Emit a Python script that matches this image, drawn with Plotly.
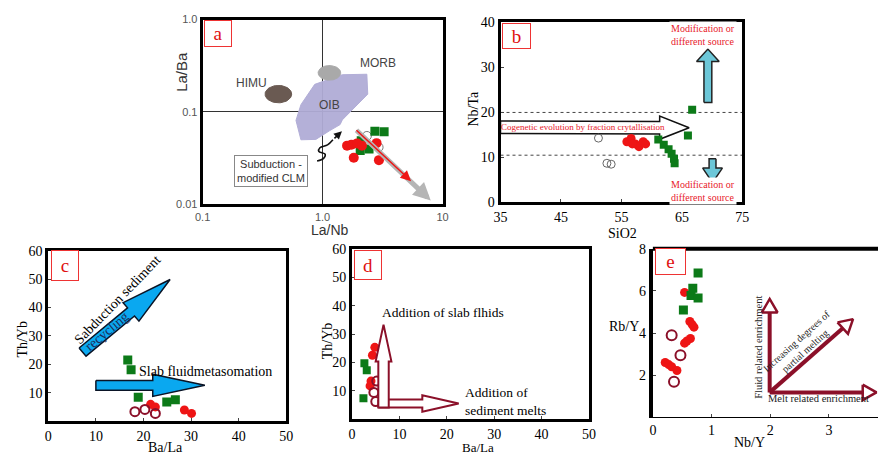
import numpy as np
import plotly.graph_objects as go

W, H = 885, 461
SERIF = "Liberation Serif"
SANS = "Liberation Sans"
RED = "#ee1515"
GREEN = "#0c7a18"
DRED = "#8b1029"

# ---------------- data ----------------
# panel a : La/Nb (x) vs La/Ba (y), log-log
a_red_x = [1.60, 1.74, 1.94, 2.13, 1.82, 2.82, 2.95]
a_red_y = [0.0432, 0.0443, 0.0457, 0.0432, 0.0320, 0.0460, 0.0301]
a_green_x = [2.73, 3.26, 2.10, 2.06, 2.44]
a_green_y = [0.0620, 0.0610, 0.0488, 0.0383, 0.0398]
a_open_x = [2.34, 2.93]
a_open_y = [0.0550, 0.0415]
oib_x = [0.86, 1.46, 2.34, 2.38, 1.46, 1.40, 1.14, 0.88, 0.66, 0.60, 0.66, 0.86]
oib_y = [0.199, 0.253, 0.256, 0.156, 0.082, 0.073, 0.0625, 0.0505, 0.050, 0.081, 0.120, 0.199]
himu_c, himu_r = (0.428, 0.156), (0.111, 0.094)      # centre (data), radii (decades)
morb_c, morb_r = (1.14, 0.265), (0.094, 0.079)

# panel b : SiO2 vs Nb/Ta
b_open_x = [51.2, 52.6, 53.3]
b_open_y = [14.3, 8.7, 8.5]
b_red_x = [55.9, 56.6, 57.3, 57.9, 58.6, 59.0, 56.8]
b_red_y = [13.5, 14.2, 13.0, 12.4, 13.5, 13.0, 13.0]
b_green_x = [61.1, 62.0, 62.8, 63.3, 63.7, 63.8, 66.0, 66.7]
b_green_y = [14.0, 12.8, 11.8, 10.8, 9.7, 8.7, 14.9, 20.6]
b_lines = [20.0, 10.5]

# panel c : Ba/La vs Th/Yb
c_green_x = [16.7, 17.4, 18.9, 24.9, 26.7]
c_green_y = [21.5, 18.1, 8.4, 6.7, 7.5]
c_red_x = [21.5, 22.5, 28.6, 30.1]
c_red_y = [5.9, 5.0, 3.9, 2.7]
c_open_x = [18.2, 20.3, 22.5]
c_open_y = [3.3, 4.1, 2.7]

# panel d : Ba/La vs Th/Yb
d_red_x = [4.8, 4.3, 4.0, 3.8]
d_red_y = [25.3, 22.5, 13.4, 11.7]
d_open_x = [5.2, 4.6, 5.0]
d_open_y = [13.4, 9.4, 6.2]
d_green_x = [2.6, 3.1, 2.4]
d_green_y = [19.7, 17.2, 7.4]

# panel e : Nb/Y vs Rb/Y
e_green_x = [0.77, 0.68, 0.65, 0.77, 0.52]
e_green_y = [6.85, 6.13, 5.78, 5.67, 5.09]
e_red_x = [0.54, 0.63, 0.70, 0.67, 0.64, 0.54, 0.58, 0.21, 0.27, 0.32, 0.41]
e_red_y = [5.93, 4.55, 4.28, 4.40, 3.74, 3.52, 3.62, 2.60, 2.50, 2.40, 2.22]
e_open_x = [0.32, 0.47, 0.36]
e_open_y = [3.90, 2.94, 1.69]

# ---------------- layout geometry (pixel boxes) ----------------
panels = {
    "a": dict(box=(198, 13, 442, 204), xr=(-1, 1), yr=(-2, 0), ax="", log=True),
    "b": dict(box=(501, 16, 747, 202), xr=(35, 75), yr=(0, 40), ax="2", log=False),
    "c": dict(box=(41, 252, 283, 428), xr=(0, 50), yr=(0, 60), ax="3", log=False),
    "d": dict(box=(350, 250, 591, 426), xr=(0, 50), yr=(0, 60), ax="4", log=False),
    "e": dict(box=(656, 250, 885, 424), xr=(0, 229 / 59.7), yr=(0, 8), ax="5", log=False),
}


def scale(p):
    x0, y0, x1, y1 = p["box"]
    return (x1 - x0) / (p["xr"][1] - p["xr"][0]), (y1 - y0) / (p["yr"][1] - p["yr"][0])


def P(px, py):
    return px / W, 1 - py / H


fig = go.Figure()


def add(p, x, y, **kw):
    a = panels[p]["ax"]
    fig.add_trace(go.Scatter(x=x, y=y, xaxis="x" + a, yaxis="y" + a,
                             showlegend=False, hoverinfo="skip", **kw))


def block_arrow(p, tail, tip, shaft, headw, headl):
    sx, sy = scale(panels[p])
    dx, dy = (tip[0] - tail[0]) * sx, (tip[1] - tail[1]) * sy
    L = np.hypot(dx, dy)
    ux, uy = dx / L, dy / L
    nx, ny = -uy, ux
    b = L - headl
    pts = [(nx * shaft / 2, ny * shaft / 2),
           (ux * b + nx * shaft / 2, uy * b + ny * shaft / 2),
           (ux * b + nx * headw / 2, uy * b + ny * headw / 2),
           (dx, dy),
           (ux * b - nx * headw / 2, uy * b - ny * headw / 2),
           (ux * b - nx * shaft / 2, uy * b - ny * shaft / 2),
           (-nx * shaft / 2, -ny * shaft / 2),
           (nx * shaft / 2, ny * shaft / 2)]
    xs = [tail[0] + q[0] / sx for q in pts]
    ys = [tail[1] + q[1] / sy for q in pts]
    return xs, ys


def head_tri(p, tail, tip, headw, headl):
    sx, sy = scale(panels[p])
    dx, dy = (tip[0] - tail[0]) * sx, (tip[1] - tail[1]) * sy
    L = np.hypot(dx, dy)
    ux, uy = dx / L, dy / L
    nx, ny = -uy, ux
    b = L - headl
    pts = [(ux * b + nx * headw / 2, uy * b + ny * headw / 2), (dx, dy),
           (ux * b - nx * headw / 2, uy * b - ny * headw / 2),
           (ux * b + nx * headw / 2, uy * b + ny * headw / 2)]
    base = (tail[0] + ux * b / sx, tail[1] + uy * b / sy)
    return [tail[0] + q[0] / sx for q in pts], [tail[1] + q[1] / sy for q in pts], base


# ---------------- panel a ----------------
oib_fill = "rgba(176,172,214,0.95)"
add("a", oib_x, oib_y, mode="lines", fill="toself", fillcolor=oib_fill,
    line=dict(color=oib_fill, width=1))
t = np.linspace(0, 2 * np.pi, 60)
for c, r, col in [(himu_c, himu_r, "#6a5a52"), (morb_c, morb_r, "#a9a9a9")]:
    ex = 10 ** (np.log10(c[0]) + r[0] * np.cos(t))
    ey = 10 ** (np.log10(c[1]) + r[1] * np.sin(t))
    add("a", ex, ey, mode="lines", fill="toself", fillcolor=col, line=dict(color=col, width=1))
add("a", a_open_x, a_open_y, mode="markers",
    marker=dict(symbol="circle-open", size=9, color="#777", line=dict(width=1)))
add("a", a_green_x, a_green_y, mode="markers",
    marker=dict(symbol="square", size=9, color=GREEN))
add("a", a_red_x, a_red_y, mode="markers",
    marker=dict(symbol="circle", size=10, color=RED))
# squiggle towards OIB
sq_x = [0.90, 1.02, 1.05, 0.93, 0.95, 1.10, 1.22]
sq_y = [0.0295, 0.0315, 0.0350, 0.0375, 0.0410, 0.0440, 0.0500]
add("a", sq_x, sq_y, mode="lines", line=dict(color="#111", width=1.6, shape="spline"))

# ---------------- panel b ----------------
bx, by = block_arrow("b", (35.0, 16.7), (66.2, 16.6), 13, 24, 30)
add("b", bx, by, mode="lines", fill="toself", fillcolor="white", line=dict(color="#111", width=1.5))
for tail, tip, sw, hw, hl in [((69.3, 22.2), (69.3, 34.1), 8, 23, 13),
                              ((70.07, 9.7), (70.07, 4.4), 7, 20, 15)]:
    bx, by = block_arrow("b", tail, tip, sw, hw, hl)
    add("b", bx, by, mode="lines", fill="toself", fillcolor="#6cc7d8",
        line=dict(color="#222", width=1.5))
add("b", b_open_x, b_open_y, mode="markers",
    marker=dict(symbol="circle-open", size=8, color="#666", line=dict(width=1)))
add("b", b_red_x, b_red_y, mode="markers", marker=dict(symbol="circle", size=9, color=RED))
add("b", b_green_x, b_green_y, mode="markers", marker=dict(symbol="square", size=8, color=GREEN))

# ---------------- panel c ----------------
for tail, tip, sw, hw, hl in [((7.2, 24.3), (25.6, 49.9), 11, 25, 52),
                              ((10.0, 12.6), (32.9, 12.6), 10, 23, 53)]:
    bx, by = block_arrow("c", tail, tip, sw, hw, hl)
    add("c", bx, by, mode="lines", fill="toself", fillcolor="#0aa8f0",
        line=dict(color="#0a1426", width=1.5))
add("c", c_green_x, c_green_y, mode="markers", marker=dict(symbol="square", size=9, color=GREEN))
add("c", c_red_x, c_red_y, mode="markers", marker=dict(symbol="circle", size=9, color=RED))
add("c", c_open_x, c_open_y, mode="markers",
    marker=dict(symbol="circle-open", size=9, color=DRED, line=dict(width=2)))

# ---------------- panel d ----------------
add("d", d_green_x, d_green_y, mode="markers", marker=dict(symbol="square", size=8, color=GREEN))
add("d", d_red_x, d_red_y, mode="markers", marker=dict(symbol="circle", size=9, color=RED))
add("d", d_open_x, d_open_y, mode="markers",
    marker=dict(symbol="circle-open", size=9, color=DRED, line=dict(width=2)))
for tail, tip, sw, hw, hl in [((5.54, 5.5), (22.5, 5.5), 8.3, 17, 37),
                              ((6.64, 4.1), (6.64, 33.3), 10.6, 16, 38)]:
    bx, by = block_arrow("d", tail, tip, sw, hw, hl)
    add("d", bx, by, mode="lines", fill="toself", fillcolor="white",
        line=dict(color=DRED, width=2))

# ---------------- panel e ----------------
add("e", e_open_x, e_open_y, mode="markers",
    marker=dict(symbol="circle-open", size=10, color=DRED, line=dict(width=2)))
add("e", e_red_x, e_red_y, mode="markers", marker=dict(symbol="circle", size=9, color=RED))
add("e", e_green_x, e_green_y, mode="markers", marker=dict(symbol="square", size=9, color=GREEN))
corner = (1.99, 1.18)
for tip in [(1.99, 5.62), (3.81, 1.18), (3.41, 4.66)]:
    hx, hy, base = head_tri("e", corner, tip, 16, 14)
    add("e", [corner[0], base[0]], [corner[1], base[1]], mode="lines",
        line=dict(color=DRED, width=4))
    add("e", hx, hy, mode="lines", fill="toself", fillcolor="white",
        line=dict(color=DRED, width=2.5))

# ---------------- axes ----------------
lay = dict(width=W, height=H, margin=dict(l=0, r=0, t=0, b=0),
           paper_bgcolor="white", plot_bgcolor="white")
for k, p in panels.items():
    x0, y0, x1, y1 = p["box"]
    xa = dict(domain=[x0 / W, x1 / W], range=list(p["xr"]), anchor="y" + p["ax"],
              showline=True, linecolor="black", linewidth=3, mirror=True,
              zeroline=False, showgrid=False, ticks="inside", ticklen=3,
              tickfont=dict(family=SERIF, size=14, color="black"), fixedrange=True)
    ya = dict(domain=[1 - y1 / H, 1 - y0 / H], range=list(p["yr"]), anchor="x" + p["ax"],
              showline=True, linecolor="black", linewidth=3, mirror=True,
              zeroline=False, showgrid=False, ticks="inside", ticklen=3,
              tickfont=dict(family=SERIF, size=14, color="black"), fixedrange=True)
    lay["xaxis" + p["ax"]] = xa
    lay["yaxis" + p["ax"]] = ya

lay["xaxis"].update(type="log", tickvals=[0.1, 1, 10], ticktext=["0.1", "1.0", "10"],
                    showgrid=True, gridcolor="#333", gridwidth=1, ticks="",
                    tickfont=dict(family=SANS, size=11, color="#555"))
lay["yaxis"].update(type="log", tickvals=[0.01, 0.1, 1], ticktext=["0.01", "0.1", "1.0"],
                    showgrid=True, gridcolor="#333", gridwidth=1, ticks="",
                    tickfont=dict(family=SANS, size=11, color="#555"))
lay["xaxis2"].update(tickvals=[35, 45, 55, 65, 75])
lay["yaxis2"].update(tickvals=[0, 10, 20, 30, 40])
lay["xaxis3"].update(tickvals=[0, 10, 20, 30, 40, 50])
lay["yaxis3"].update(tickvals=[10, 20, 30, 40, 50, 60])
lay["xaxis4"].update(tickvals=[0, 10, 20, 30, 40, 50])
lay["yaxis4"].update(tickvals=[10, 20, 30, 40, 50, 60])
lay["xaxis5"].update(tickvals=[0, 1, 2, 3], mirror=False, linewidth=1)
lay["yaxis5"].update(tickvals=[2, 4, 6, 8], mirror=False, linewidth=4)
fig.update_layout(**lay)

shapes = [dict(type="line", xref="x5 domain", yref="y5 domain", x0=0, x1=1, y0=1, y1=1,
               line=dict(color="black", width=4))]
for v in b_lines:
    shapes.append(dict(type="line", xref="x2 domain", yref="y2", x0=0, x1=1, y0=v, y1=v,
                       line=dict(color="#444", width=1, dash="dot"), layer="below"))
fig.update_layout(shapes=shapes)

# ---------------- annotations ----------------
ann = []


def txt(p, x, y, text, size=13, color="black", family=SERIF, angle=0, xanchor="center", **kw):
    a = panels[p]["ax"]
    ann.append(dict(x=x, y=y, xref="x" + a, yref="y" + a, text=text, showarrow=False,
                    textangle=angle, xanchor=xanchor, yanchor="middle",
                    font=dict(family=family, size=size, color=color), **kw))


def ptxt(px, py, text, size=14, family=SERIF, color="black", angle=0):
    x, y = P(px, py)
    ann.append(dict(x=x, y=y, xref="paper", yref="paper", text=text, showarrow=False,
                    textangle=angle, xanchor="center", yanchor="middle",
                    font=dict(family=family, size=size, color=color)))


# panel labels
for lab, (cx, cy, w, h) in {"a": (214, 27, 28, 27), "b": (517.5, 30, 29, 26),
                             "c": (58, 267.5, 28, 31), "d": (366, 267, 28, 30),
                             "e": (673.5, 263.5, 31, 27)}.items():
    x, y = P(cx, cy)
    ann.append(dict(x=x, y=y, xref="paper", yref="paper", text=lab, showarrow=False,
                    xanchor="center", yanchor="middle", width=w - 2, height=h - 2,
                    borderpad=0, bordercolor="#ee3333", borderwidth=1, bgcolor="white",
                    font=dict(family=SERIF, size=19, color="#e01010")))

# panel a texts (log axis -> log10 positions)
L = np.log10
txt("a", L(2.9), L(0.338), "MORB", size=12, color="#444", family=SANS)
txt("a", L(0.257), L(0.204), "HIMU", size=12, color="#444", family=SANS)
txt("a", L(1.14), L(0.12), "OIB", size=12, color="#444", family=SANS)
txt("a", L(0.368), L(0.0227), "Subduction -<br>modified CLM", size=11, color="#333",
    family=SANS, bordercolor="#888", borderwidth=1, borderpad=2, bgcolor="white")
ann.append(dict(x=L(1.45), y=L(0.062), ax=L(1.22), ay=L(0.050), xref="x", yref="y",
                axref="x", ayref="y", showarrow=True, arrowhead=2, arrowsize=1,
                arrowwidth=1.6, arrowcolor="#111", text=""))
ann.append(dict(x=0.902, y=-1.958, ax=0.270, ay=-1.183, xref="x", yref="y",
                axref="x", ayref="y", showarrow=True, arrowhead=2, arrowsize=0.7,
                arrowwidth=5, arrowcolor="#b5b5b5", text=""))
ann.append(dict(x=0.738, y=-1.749, ax=0.270, ay=-1.183, xref="x", yref="y",
                axref="x", ayref="y", showarrow=True, arrowhead=2, arrowsize=1.4,
                arrowwidth=1.5, arrowcolor="#ee1515", text=""))

# panel b texts
txt("b", 48.6, 16.8, "Cogenetic evolution by fraction crytallisation", size=9, color="#e8202a")
txt("b", 68.5, 37.2, "Modification or<br>different source", size=10, color="#e8202a",
    bgcolor="white")
txt("b", 68.5, 2.6, "Modification or<br>different source", size=10, color="#e8202a",
    bgcolor="white")

# panel c texts
txt("c", 18.7, 17.4, "Slab fluidmetasomation", size=14, xanchor="left")
txt("c", 14.6, 42.8, "Sabduction sediment", size=14, angle=-46)
txt("c", 12.3, 31.5, "recycling", size=14, angle=-40, color="#1c2d5a")

# panel d texts
txt("d", 5.8, 37.5, "Addition of slab flhids", size=13.5, xanchor="left")
txt("d", 23.4, 6.2, "Addition of<br>sediment melts", size=13.5, xanchor="left", align="left")

# panel e texts
txt("e", 1.80, 3.32, "Fluid related enrichment", size=10.5, angle=-90, color="#222")
txt("e", 2.83, 0.87, "Melt related enrichment", size=10.5, color="#222")
txt("e", 2.52, 3.38, "Increasing degrees of<br>partial melting", size=10, angle=-42, color="#222")

# axis titles
ptxt(177, 67, "La/Ba", size=15, family=SANS, color="#333", angle=-90)
ptxt(328, 231, "La/Nb", size=14, family=SANS, color="#333")
ptxt(474, 105, "Nb/Ta", size=14, angle=-90)
ptxt(625, 234, "SiO2", size=14)
ptxt(15, 343, "Th/Yb", size=14, angle=-90)
ptxt(160, 455, "Ba/La", size=14)
ptxt(325, 345, "Th/Yb", size=14, angle=-90)
ptxt(478, 455, "Ba/La", size=13)
ptxt(627, 330, "Rb/Y", size=14)
ptxt(754, 450, "Nb/Y", size=14)

fig.update_layout(annotations=ann)
fig.write_html("out.html")
